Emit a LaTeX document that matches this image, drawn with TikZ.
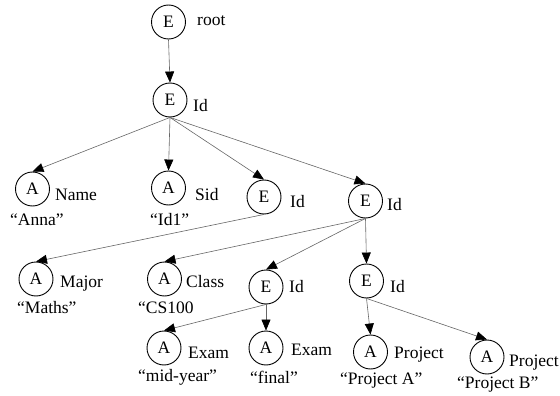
\documentclass[tikz,border=0pt]{standalone}
\usepackage{fontspec}
\setmainfont{Liberation Serif}
\usetikzlibrary{arrows.meta}
\begin{document}
\begin{tikzpicture}[x=1pt,y=-1pt,
  font=\fontsize{17.5}{20}\selectfont,
  vnode/.style={draw=black,circle,line width=0.9pt,minimum size=34pt,inner sep=0pt},
  lbl/.style={anchor=base west,inner sep=0pt},
  edge/.style={draw=black!60,line width=0.6pt,-{Triangle[length=11pt,width=9pt,fill=black,color=black]}}]
\useasboundingbox (0,0) rectangle (560,396);
% nodes
\node[vnode] (root) at (168.5,22) {E};
\node[vnode] (id1) at (170,100) {E};
\node[vnode] (name) at (32.5,189) {A};
\node[vnode] (sid) at (168.5,188) {A};
\node[vnode] (e3) at (264,197) {E};
\node[vnode] (e4) at (365.5,201) {E};
\node[vnode] (major) at (36,279) {A};
\node[vnode] (class) at (164.5,279) {A};
\node[vnode] (e5) at (266,287) {E};
\node[vnode] (e6) at (366.5,281) {E};
\node[vnode] (exam1) at (164,348) {A};
\node[vnode] (exam2) at (266,348) {A};
\node[vnode] (proja) at (370.5,352) {A};
\node[vnode] (projb) at (487,357) {A};
% labels
\node[lbl] (lroot) at (197,26) {root};
\node[lbl] (lid1) at (193,112) {Id};
\node[lbl] (lname) at (55,200) {Name};
\node[lbl] (vname) at (10,225) {“Anna”};
\node[lbl] (lsid) at (195,200) {Sid};
\node[lbl] (vsid) at (150,225) {“Id1”};
\node[lbl] (le3) at (290,207) {Id};
\node[lbl] (le4) at (387,210) {Id};
\node[lbl] (lmajor) at (60,287) {Major};
\node[lbl] (vmajor) at (17,313) {“Maths”};
\node[lbl] (lclass) at (186,287) {Class};
\node[lbl] (vclass) at (138,313) {“CS100};
\node[lbl] (le5) at (289,292) {Id};
\node[lbl] (le6) at (390,292) {Id};
\node[lbl] (lexam1) at (188,358) {Exam};
\node[lbl] (vexam1) at (138,381) {“mid-year”};
\node[lbl] (lexam2) at (291,355) {Exam};
\node[lbl] (vexam2) at (250,383) {“final”};
\node[lbl] (lproja) at (394,358) {Project};
\node[lbl] (vproja) at (340,384) {“Project A”};
\node[lbl] (lprojb) at (509,366) {Project};
\node[lbl] (vprojb) at (457,388) {“Project B”};
% edges
\draw[edge] (root.south) -- (id1.north);
\draw[edge] (id1.south) -- (name.north);
\draw[edge] (id1.south) -- (sid.north);
\draw[edge] (id1.south) -- (e3.north);
\draw[edge] (id1.south) -- (e4.north);
\draw[edge] (e3.south) -- (major.north);
\draw[edge] (e4.south) -- (class.north);
\draw[edge] (e4.south) -- (e5.north);
\draw[edge] (e4.south) -- (e6.north);
\draw[edge] (e5.south) -- (exam1.north);
\draw[edge] (e5.south) -- (exam2.north);
\draw[edge] (e6.south) -- (proja.north);
\draw[edge] (e6.south) -- (projb.north);
\end{tikzpicture}
\end{document}
